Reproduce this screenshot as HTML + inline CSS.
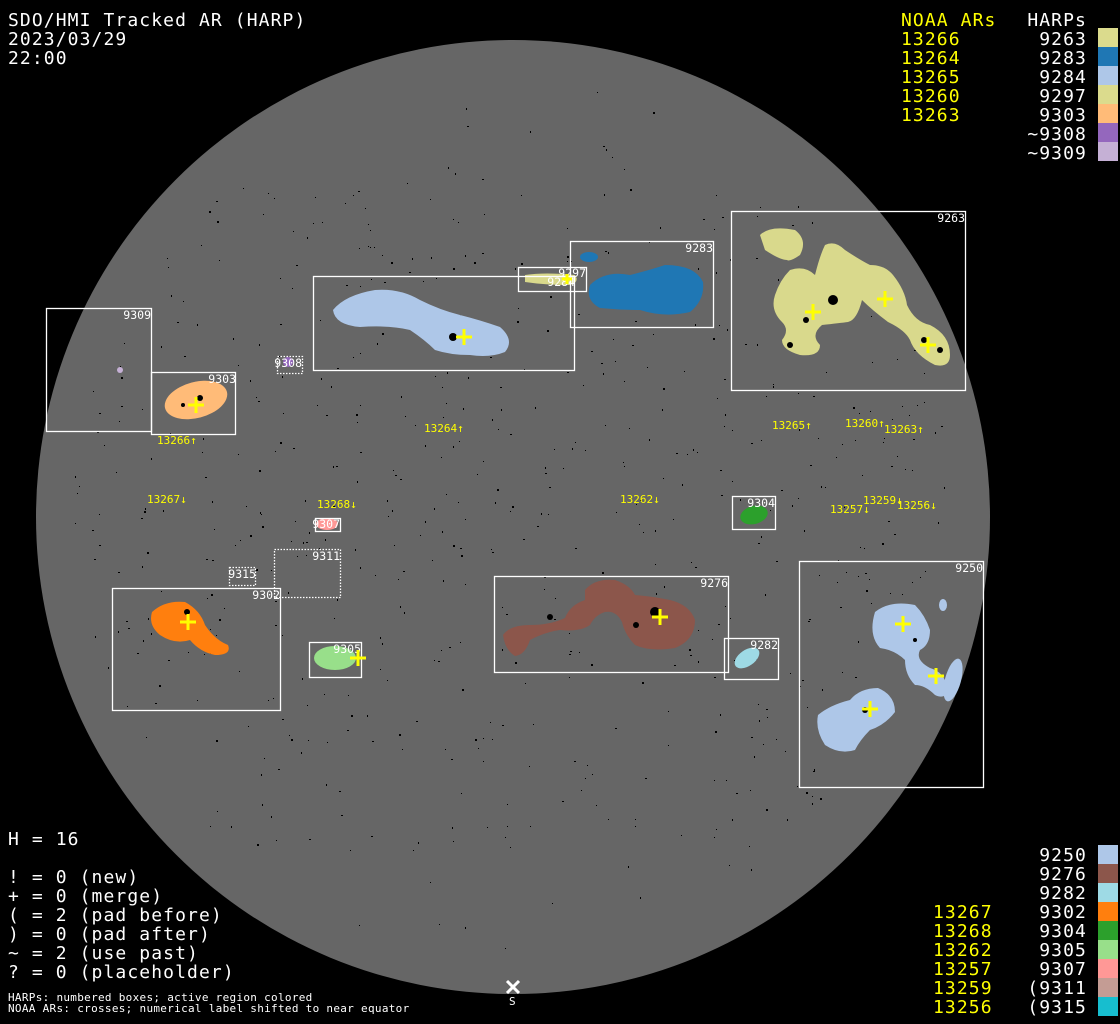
<!DOCTYPE html>
<html><head><meta charset="utf-8"><style>
html,body{margin:0;padding:0;background:#000;width:1120px;height:1024px;overflow:hidden}
svg{display:block}
.t{font-family:"DejaVu Sans Mono","Liberation Mono",monospace;font-size:18px;fill:#fff;letter-spacing:1.1px}
.y{fill:#ffff00}
.s{font-family:"DejaVu Sans Mono","Liberation Mono",monospace;font-size:11px;fill:#fff;letter-spacing:0.3px}
.b{font-family:"DejaVu Sans Mono","Liberation Mono",monospace;font-size:11.5px;fill:#fff}
.l{font-family:"DejaVu Sans Mono","Liberation Mono",monospace;font-size:11px;fill:#ffff00}
.bx{fill:none;stroke:#fff;stroke-width:1.3}
.dt{fill:none;stroke:#fff;stroke-width:1.3;stroke-dasharray:1.5 1.5}
.cr{stroke:#ffff00;stroke-width:3;fill:none}
</style></head><body>
<svg id="sv" width="1120" height="1024" viewBox="0 0 1120 1024" xmlns="http://www.w3.org/2000/svg">
<rect width="1120" height="1024" fill="#000"/>
<circle cx="513" cy="517" r="477" fill="#666"/>
<g id="specks" fill="#000"></g>

<!-- regions -->
<path fill="#d9d98c" d="M760 235 Q770 225 795 230 Q808 240 800 255 Q790 262 787 260 Q780 260 765 250Z"/>
<path fill="#d9d98c" d="M790 270 Q805 265 815 275 Q820 255 825 245 Q835 240 845 250 Q860 260 870 265 Q885 265 893 275 Q905 290 907 305 Q915 322 930 325 Q950 335 950 355 Q950 368 935 365 Q915 355 910 340 Q905 330 888 322 Q872 310 862 300 Q857 320 848 322 Q840 323 822 325 Q810 335 820 345 Q820 357 800 355 Q782 350 782 340 Q790 330 782 322 Q770 310 775 295 Q780 280 790 270Z"/>
<path fill="#1f77b4" d="M590 285 Q605 270 630 275 Q650 270 665 265 Q695 265 703 282 Q705 300 690 312 Q665 318 640 310 Q620 310 600 308 Q585 300 590 285Z"/>
<ellipse cx="589" cy="257" rx="9" ry="5" fill="#1f77b4"/>
<path fill="#aec7e8" d="M333 310 Q345 295 375 290 Q400 288 420 300 Q440 310 460 315 Q480 320 500 327 Q515 340 505 352 Q490 358 470 355 Q450 355 435 350 Q425 340 410 330 Q390 325 360 327 Q335 325 333 310Z"/>
<path fill="#d9d98c" d="M525 275 Q545 272 575 275 Q580 282 570 285 Q545 285 525 282Z"/>
<ellipse cx="196" cy="400" rx="32" ry="18" fill="#ffbb78" transform="rotate(-15 196 400)"/>
<circle cx="288" cy="362" r="5" fill="#9467bd"/>
<circle cx="120" cy="370" r="3" fill="#c5b0d5"/>
<ellipse cx="754" cy="515" rx="14" ry="9" fill="#2ca02c" transform="rotate(-15 754 515)"/>
<ellipse cx="327" cy="524" rx="11" ry="6" fill="#ff9896"/>
<path fill="#ff7f0e" d="M152 612 Q165 600 185 602 Q200 610 205 625 Q215 640 228 645 Q232 655 215 655 Q200 652 190 640 Q175 645 160 635 Q148 625 152 612Z"/>
<ellipse cx="335" cy="658" rx="21" ry="12" fill="#98df8a"/>
<path fill="#8c564b" d="M585 590 Q595 578 615 580 Q630 585 635 595 Q650 596 670 600 Q690 605 695 620 Q695 640 675 648 Q650 652 635 645 Q625 635 622 622 Q616 610 605 612 Q595 615 590 625 Q580 632 560 630 Q545 632 530 640 Q525 655 515 656 Q505 650 503 635 Q510 625 530 625 Q550 625 565 618 Q570 605 585 600Z"/>
<ellipse cx="747" cy="658" rx="14" ry="8" fill="#9edae5" transform="rotate(-35 747 658)"/>
<path fill="#aec7e8" d="M875 612 Q890 600 915 605 Q925 615 930 630 Q930 645 920 650 Q915 660 930 668 Q945 672 948 690 Q945 700 935 695 Q925 685 915 685 Q905 675 905 660 Q895 650 880 648 Q868 635 875 612Z"/>
<ellipse cx="953" cy="680" rx="8" ry="22" fill="#aec7e8" transform="rotate(15 953 680)"/>
<ellipse cx="943" cy="605" rx="4" ry="6" fill="#aec7e8"/>
<path fill="#aec7e8" d="M818 715 Q830 705 850 700 Q860 688 878 688 Q895 695 895 712 Q885 725 870 730 Q860 740 855 750 Q840 755 825 745 Q815 730 818 715Z"/>
<g fill="#000">
<circle cx="453" cy="337" r="4"/><circle cx="833" cy="300" r="5"/><circle cx="806" cy="320" r="3"/><circle cx="790" cy="345" r="3"/>
<circle cx="550" cy="617" r="3"/><circle cx="655" cy="612" r="5"/><circle cx="636" cy="625" r="3"/>
<circle cx="200" cy="398" r="3"/><circle cx="183" cy="405" r="2"/><circle cx="187" cy="612" r="3"/>
<circle cx="924" cy="340" r="3"/><circle cx="940" cy="350" r="3"/><circle cx="865" cy="710" r="3"/><circle cx="915" cy="640" r="2"/>
</g>

<!-- boxes -->
<rect class="bx" x="46.5" y="308.5" width="105" height="123"/>
<rect class="bx" x="151.5" y="372.5" width="84" height="62"/>
<rect class="dt" x="277.5" y="356.5" width="25" height="17"/>
<rect class="bx" x="313.5" y="276.5" width="261" height="94"/>
<rect class="bx" x="518.5" y="267.5" width="68" height="24"/>
<rect class="bx" x="570.5" y="241.5" width="143" height="86"/>
<rect class="bx" x="731.5" y="211.5" width="234" height="179"/>
<rect class="bx" x="732.5" y="496.5" width="43" height="33"/>
<rect class="bx" x="315.5" y="518.5" width="25" height="13"/>
<rect class="dt" x="274.5" y="549.5" width="66" height="48"/>
<rect class="dt" x="229.5" y="567.5" width="26" height="18"/>
<rect class="bx" x="112.5" y="588.5" width="168" height="122"/>
<rect class="bx" x="309.5" y="642.5" width="52" height="35"/>
<rect class="bx" x="494.5" y="576.5" width="234" height="96"/>
<rect class="bx" x="724.5" y="638.5" width="54" height="41"/>
<rect class="bx" x="799.5" y="561.5" width="184" height="226"/>

<!-- box labels -->
<g class="b" text-anchor="end">
<text x="151" y="319">9309</text><text x="236" y="383">9303</text><text x="302" y="367">9308</text>
<text x="586" y="277">9297</text><text x="713" y="252">9283</text><text x="965" y="222">9263</text>
<text x="775" y="507">9304</text><text x="340" y="528">9307</text><text x="340" y="560">9311</text>
<text x="256" y="578">9315</text><text x="280" y="599">9302</text><text x="361" y="653">9305</text>
<text x="728" y="587">9276</text><text x="778" y="649">9282</text><text x="983" y="572">9250</text>
<text x="575" y="286">9284</text>
</g>

<!-- crosses -->
<g class="cr">
<path d="M188 405h16M196 397v16"/><path d="M456 337h16M464 329v16"/>
<path d="M877 299h16M885 291v16"/><path d="M805 312h16M813 304v16"/><path d="M920 345h16M928 337v16"/>
<path d="M350 658h16M358 650v16"/><path d="M180 622h16M188 614v16"/>
<path d="M652 617h16M660 609v16"/><path d="M895 624h16M903 616v16"/><path d="M928 676h16M936 668v16"/><path d="M862 709h16M870 701v16"/>
<path d="M562 279h10M567 274v10"/>
</g>

<!-- NOAA labels -->
<g class="l">
<text x="157" y="444">13266↑</text><text x="424" y="432">13264↑</text><text x="772" y="429">13265↑</text>
<text x="845" y="427">13260↑</text><text x="884" y="433">13263↑</text><text x="147" y="503">13267↓</text>
<text x="317" y="508">13268↓</text><text x="620" y="503">13262↓</text><text x="863" y="504">13259↓</text>
<text x="830" y="513">13257↓</text><text x="897" y="509">13256↓</text>
</g>

<!-- S marker -->
<path d="M507 981l12 12M519 981l-12 12" stroke="#fff" stroke-width="3"/>
<text class="s" x="509" y="1005">S</text>

<!-- top left -->
<text class="t" x="8" y="26">SDO/HMI Tracked AR (HARP)</text>
<text class="t" x="8" y="45">2023/03/29</text>
<text class="t" x="8" y="64">22:00</text>

<!-- top right legend -->
<text class="t y" x="901" y="26">NOAA ARs</text>
<text class="t" x="1087" y="26" text-anchor="end">HARPs</text>
<g class="t y"><text x="901" y="45">13266</text><text x="901" y="64">13264</text><text x="901" y="83">13265</text><text x="901" y="102">13260</text><text x="901" y="121">13263</text></g>
<g class="t" text-anchor="end"><text x="1087" y="45">9263</text><text x="1087" y="64">9283</text><text x="1087" y="83">9284</text><text x="1087" y="102">9297</text><text x="1087" y="121">9303</text><text x="1087" y="140">~9308</text><text x="1087" y="159">~9309</text></g>
<rect x="1098" y="28" width="20" height="19" fill="#dbdb8d"/>
<rect x="1098" y="47" width="20" height="19" fill="#1f77b4"/>
<rect x="1098" y="66" width="20" height="19" fill="#aec7e8"/>
<rect x="1098" y="85" width="20" height="19" fill="#dbdb8d"/>
<rect x="1098" y="104" width="20" height="19" fill="#ffbb78"/>
<rect x="1098" y="123" width="20" height="19" fill="#9467bd"/>
<rect x="1098" y="142" width="20" height="19" fill="#c5b0d5"/>

<!-- bottom left -->
<text class="t" x="8" y="845">H = 16</text>
<text class="t" x="8" y="883">! = 0 (new)</text>
<text class="t" x="8" y="902">+ = 0 (merge)</text>
<text class="t" x="8" y="921">( = 2 (pad before)</text>
<text class="t" x="8" y="940">) = 0 (pad after)</text>
<text class="t" x="8" y="959">~ = 2 (use past)</text>
<text class="t" x="8" y="978">? = 0 (placeholder)</text>
<text class="s" x="8" y="1001">HARPs: numbered boxes; active region colored</text>
<text class="s" x="8" y="1012">NOAA ARs: crosses; numerical label shifted to near equator</text>

<!-- bottom right legend -->
<g class="t" text-anchor="end"><text x="1087" y="861">9250</text><text x="1087" y="880">9276</text><text x="1087" y="899">9282</text><text x="1087" y="918">9302</text><text x="1087" y="937">9304</text><text x="1087" y="956">9305</text><text x="1087" y="975">9307</text><text x="1087" y="994">(9311</text><text x="1087" y="1013">(9315</text></g>
<g class="t y"><text x="933" y="918">13267</text><text x="933" y="937">13268</text><text x="933" y="956">13262</text><text x="933" y="975">13257</text><text x="933" y="994">13259</text><text x="933" y="1013">13256</text></g>
<rect x="1098" y="845" width="20" height="19" fill="#aec7e8"/>
<rect x="1098" y="864" width="20" height="19" fill="#8c564b"/>
<rect x="1098" y="883" width="20" height="19" fill="#9edae5"/>
<rect x="1098" y="902" width="20" height="19" fill="#ff7f0e"/>
<rect x="1098" y="921" width="20" height="19" fill="#2ca02c"/>
<rect x="1098" y="940" width="20" height="19" fill="#98df8a"/>
<rect x="1098" y="959" width="20" height="19" fill="#ff9896"/>
<rect x="1098" y="978" width="20" height="19" fill="#c49c94"/>
<rect x="1098" y="997" width="20" height="19" fill="#17becf"/>
</svg>
<script>
(function(){var g=document.getElementById('specks'),s=12345,h='';function r(){s=(s*1103515245+12345)%2147483648;return s/2147483648;}
for(var i=0;i<700;i++){var a=r()*6.283,d=Math.sqrt(r())*440,x=513+Math.cos(a)*d,y=517+Math.sin(a)*d;
if(Math.abs(y-517)>330&&r()<0.8)continue;h+='<rect x="'+x.toFixed(0)+'" y="'+y.toFixed(0)+'" width="'+(r()<0.3?2:1)+'" height="'+(r()<0.3?2:1)+'"/>';}
g.innerHTML=h;})();
</script>
</body></html>
